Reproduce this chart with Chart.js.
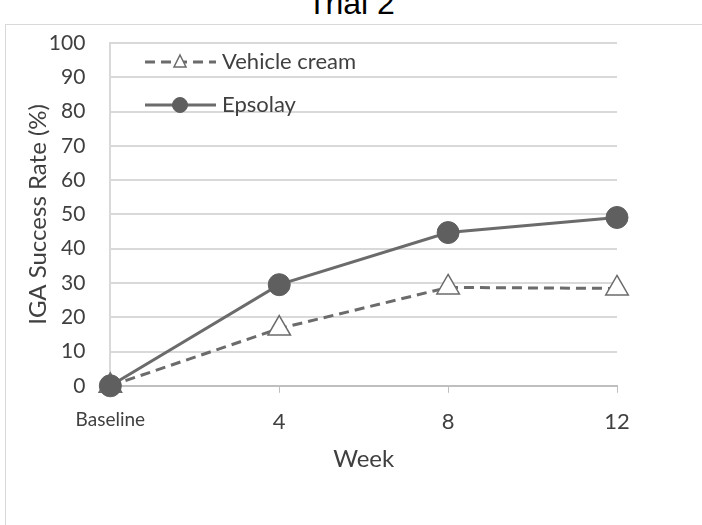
<!DOCTYPE html>
<html>
<head>
<meta charset="utf-8">
<script src="https://cdn.jsdelivr.net/npm/chart.js@4"></script>
<style>
  html, body { margin: 0; padding: 0; background: #fff; overflow: hidden; }
  body { width: 702px; height: 525px; position: relative; }
  .frame { position: absolute; left: 5px; top: 24px; width: 720px; height: 520px; border: 1px solid #d9d9d9; }
  .title { position: absolute; left: 0; width: 702px; top: -15px; line-height: 34px; text-align: center;
           font: 32px "Liberation Sans", Arial, sans-serif; color: #000; }
  .wrap { position: absolute; left: 0; top: 0; width: 702px; height: 525px; }
</style>
</head>
<body>
<div class="frame"></div>
<div class="title">Trial 2</div>
<div class="wrap"><canvas id="chart"></canvas></div>
<script>
const weeks = [0, 4, 8, 12];
const tickLabels = ['Baseline', '4', '8', '12'];
const vehicleValues = [0, 16.7, 28.7, 28.4];
const epsolayValues = [0, 29.5, 44.7, 49.1];
const seriesNames = ['Vehicle cream', 'Epsolay'];

const textColor = '#404040';
const lineColor = '#6b6b6b';
const fontFamily = 'Lato, "Open Sans", sans-serif';

const toPoints = (values) => values.map((v, i) => ({ x: weeks[i], y: v }));

// legend drawn inside the plot, top-left, like the excel one
const insideLegend = {
  id: 'insideLegend',
  afterDraw(chart) {
    const ctx = chart.ctx;
    const rows = [
      { y: 62, ds: chart.data.datasets[0] },
      { y: 105, ds: chart.data.datasets[1] },
    ];
    ctx.save();
    rows.forEach((row) => {
      ctx.strokeStyle = lineColor;
      ctx.lineWidth = 3;
      ctx.setLineDash(row.ds.borderDash || []);
      ctx.beginPath();
      ctx.moveTo(145, row.y);
      ctx.lineTo(216, row.y);
      ctx.stroke();
      ctx.setLineDash([]);
      ctx.fillStyle = row.ds.pointBackgroundColor;
      ctx.strokeStyle = row.ds.pointBorderColor;
      ctx.lineWidth = row.ds.pointBorderWidth;
      ctx.beginPath();
      if (row.ds.pointStyle === 'triangle') {
        ctx.moveTo(180, row.y - 7);
        ctx.lineTo(186, row.y + 5);
        ctx.lineTo(174, row.y + 5);
        ctx.closePath();
      } else {
        ctx.arc(180, row.y, 7.5, 0, Math.PI * 2);
      }
      ctx.fill();
      ctx.stroke();
      ctx.fillStyle = textColor;
      ctx.font = '22px ' + fontFamily;
      ctx.textBaseline = 'middle';
      ctx.textAlign = 'left';
      ctx.fillText(row.ds.label, 222, row.y);
    });
    ctx.restore();
  },
};

new Chart(document.getElementById('chart'), {
  type: 'line',
  data: {
    datasets: [
      {
        label: seriesNames[0],
        data: toPoints(vehicleValues),
        borderColor: lineColor,
        borderWidth: 3,
        borderDash: [10, 6],
        pointStyle: 'triangle',
        pointRadius: 13,
        pointBackgroundColor: '#ffffff',
        pointBorderColor: lineColor,
        pointBorderWidth: 1.5,
        tension: 0,
        clip: false,
        order: 2,
      },
      {
        label: seriesNames[1],
        data: toPoints(epsolayValues),
        borderColor: lineColor,
        borderWidth: 3,
        pointStyle: 'circle',
        pointRadius: 11,
        pointBackgroundColor: '#5f5f5f',
        pointBorderColor: '#5f5f5f',
        pointBorderWidth: 1,
        tension: 0,
        clip: false,
        order: 1,
      },
    ],
  },
  options: {
    responsive: true,
    maintainAspectRatio: false,
    animation: false,
    layout: { padding: { left: 24, right: 85, top: 43, bottom: 51 } },
    plugins: {
      legend: { display: false },
      tooltip: { enabled: false },
    },
    scales: {
      x: {
        type: 'linear',
        min: 0,
        max: 12,
        grid: {
          drawOnChartArea: false,
          drawTicks: true,
          tickLength: 7,
          color: '#bfbfbf',
        },
        border: { display: true, color: '#bfbfbf', width: 2 },
        ticks: {
          stepSize: 4,
          color: textColor,
          padding: 16,
          maxRotation: 0,
          font: (c) => ({ family: fontFamily, size: c.tick && c.tick.value === 0 ? 19 : 22 }),
          callback: (v) => {
            const i = weeks.indexOf(v);
            return i >= 0 ? tickLabels[i] : '';
          },
        },
        title: {
          display: true,
          text: 'Week',
          color: textColor,
          font: { family: fontFamily, size: 24 },
          padding: { top: -6, bottom: 0 },
        },
      },
      y: {
        min: 0,
        max: 100,
        grid: { color: '#d9d9d9', lineWidth: 2, drawTicks: false },
        border: { display: true, color: '#d9d9d9', width: 2 },
        ticks: {
          stepSize: 10,
          color: textColor,
          padding: 25,
          font: { family: fontFamily, size: 21 },
        },
        title: {
          display: true,
          text: 'IGA Success Rate (%)',
          color: textColor,
          font: { family: fontFamily, size: 24 },
          padding: { top: 0, bottom: -29 },
        },
      },
    },
  },
  plugins: [insideLegend],
});
</script>
</body>
</html>
